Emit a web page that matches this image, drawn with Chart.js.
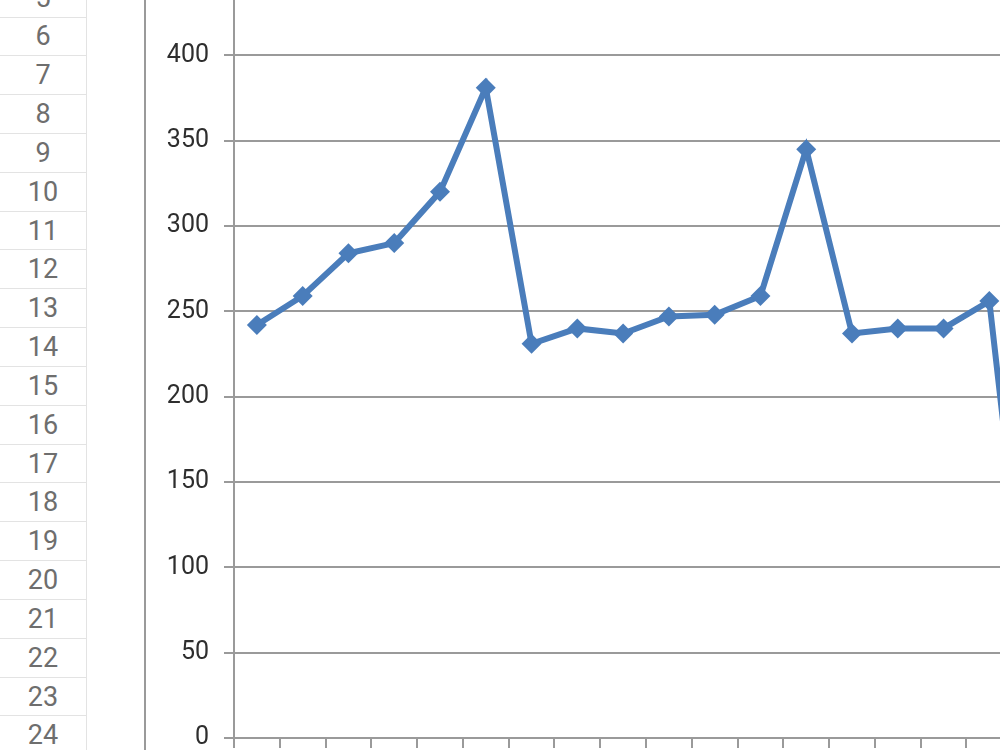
<!DOCTYPE html>
<html>
<head>
<meta charset="utf-8">
<script src="https://cdn.jsdelivr.net/npm/chart.js@4.4.1/dist/chart.umd.min.js"></script>
<style>
  html, body { margin:0; padding:0; width:1000px; height:750px; overflow:hidden; background:#fff; }
  #rows { position:absolute; left:0; top:0; width:86px; height:750px; border-right:1px solid #e3e3e3; }
  .row { position:absolute; left:0; width:86px; box-sizing:border-box; border-top:1px solid #e3e3e3;
         font-family:Roboto, "Noto Sans", sans-serif; font-size:27px; color:#6e6e6e;
         text-align:center; display:flex; align-items:center; justify-content:center; }
  #frame { position:absolute; left:144px; top:0; width:2px; height:750px; background:#9a9a9a; }
  #wrap { position:absolute; left:147px; top:-60px; width:921px; height:828px; }
</style>
</head>
<body>
<div id="rows"></div>
<div id="frame"></div>
<div id="wrap"><canvas id="c"></canvas></div>
<script>
const rowNumbers = [5,6,7,8,9,10,11,12,13,14,15,16,17,18,19,20,21,22,23,24];
const categories = ["1","2","3","4","5","6","7","8","9","10","11","12","13","14","15","16","17","18"];
const values = [242, 259, 284, 290, 320, 381, 231, 240, 237, 247, 248, 259, 345, 237, 240, 240, 256, 20];
const yTicks = { min: 0, max: 450, step: 50 };

// spreadsheet row headers
const rowsEl = document.getElementById('rows');
const rowH = 38.83, firstTop = 16.5 - rowH;
rowNumbers.forEach((n, i) => {
  const d = document.createElement('div');
  d.className = 'row';
  d.style.top = (firstTop + i * rowH) + 'px';
  d.style.height = rowH + 'px';
  d.textContent = n;
  rowsEl.appendChild(d);
});

const gridColor = '#9a9a9a';
new Chart(document.getElementById('c'), {
  type: 'line',
  data: {
    labels: categories,
    datasets: [{
      data: values,
      borderColor: '#4a7dbb',
      backgroundColor: '#4a7dbb',
      borderWidth: 6,
      pointStyle: 'rectRot',
      pointRadius: 10,
      pointBorderWidth: 0,
      tension: 0
    }]
  },
  options: {
    responsive: true,
    maintainAspectRatio: false,
    animation: false,
    events: [],
    layout: { padding: { top: 8.5, right: 0, left: 0, bottom: 0 } },
    plugins: { legend: { display: false }, tooltip: { enabled: false } },
    scales: {
      x: {
        offset: true,
        grid: { offset: true, drawOnChartArea: false, drawTicks: true, tickLength: 10, color: gridColor, lineWidth: 2 },
        border: { display: true, color: gridColor, width: 2 },
        ticks: { display: false },
        afterFit: (s) => { s.height = 22; }
      },
      y: {
        min: yTicks.min,
        max: yTicks.max,
        grid: { color: gridColor, lineWidth: 2, tickLength: 10, drawTicks: true },
        border: { display: true, color: gridColor, width: 2 },
        ticks: {
          stepSize: yTicks.step,
          padding: 15,
          color: '#2e2e2e',
          font: { family: 'Roboto', size: 25 }
        },
        afterFit: (s) => { s.width = 87; }
      }
    }
  }
});
</script>
</body>
</html>
